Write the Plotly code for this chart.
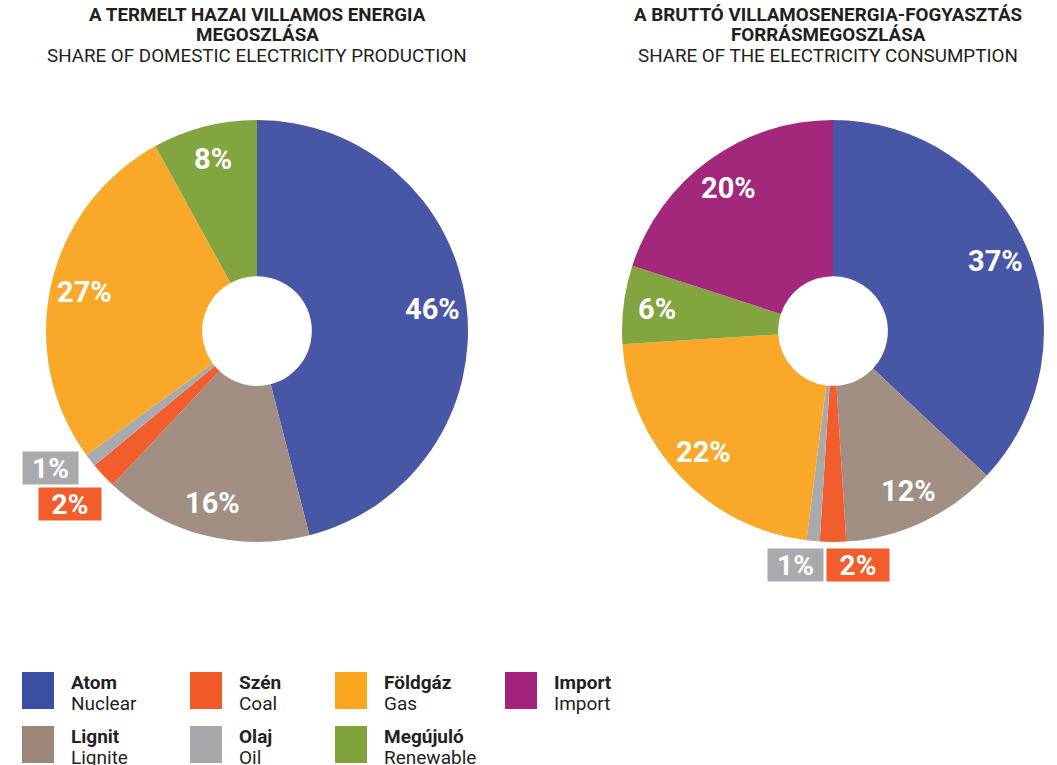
import math
import plotly.graph_objects as go

W, H = 1057, 765

# ---- data ----
cats_left = ["Atom", "Lignit", "Szén", "Olaj", "Földgáz", "Megújuló"]
vals_left = [46, 16, 2, 1, 27, 8]
cats_right = ["Atom", "Lignit", "Szén", "Olaj", "Földgáz", "Megújuló", "Import"]
vals_right = [37, 12, 2, 1, 22, 6, 20]

legend_hu = ["Atom", "Szén", "Földgáz", "Import", "Lignit", "Olaj", "Megújuló"]
legend_en = ["Nuclear", "Coal", "Gas", "Import", "Lignite", "Oil", "Renewable"]

colors = {
    "Atom": "#4757a6",
    "Lignit": "#a08f82",
    "Szén": "#f15d2c",
    "Olaj": "#a9aaad",
    "Földgáz": "#f9a829",
    "Megújuló": "#82a53f",
    "Import": "#a3287c",
}
legend_colors = {
    "Atom": "#3a4ea3", "Szén": "#f15a29", "Földgáz": "#f9a51e", "Import": "#a3237a",
    "Lignit": "#9b8677", "Olaj": "#a7a8ab", "Megújuló": "#80a33b",
}

title_left = ["A TERMELT HAZAI VILLAMOS ENERGIA", "MEGOSZLÁSA", "SHARE OF DOMESTIC ELECTRICITY PRODUCTION"]
title_right = ["A BRUTTÓ VILLAMOSENERGIA-FOGYASZTÁS", "FORRÁSMEGOSZLÁSA", "SHARE OF THE ELECTRICITY CONSUMPTION"]

FONT = "Roboto"

# ---- geometry (pixels) ----
R = 211
centers = [(257, 331), (833, 331)]
HOLE = 0.26


def px(x):
    return x / W


def py(y):
    return 1 - y / H


fig = go.Figure()
for (cx, cy), cats, vals in [(centers[0], cats_left, vals_left), (centers[1], cats_right, vals_right)]:
    fig.add_trace(go.Pie(
        labels=cats, values=vals, sort=False, direction="clockwise", rotation=0,
        hole=HOLE, textinfo="none", hoverinfo="label+percent",
        marker=dict(colors=[colors[c] for c in cats], line=dict(width=0)),
        domain=dict(x=[px(cx - R), px(cx + R)], y=[py(cy + R), py(cy - R)]),
        showlegend=False,
    ))

annotations = []

# slice labels computed from data
small_boxes = {
    0: {"Olaj": (50, 468, 53), "Szén": (70, 504, 60)},
    1: {"Olaj": (795, 565, 53), "Szén": (858, 565, 60)},
}
for i, ((cx, cy), cats, vals) in enumerate([(centers[0], cats_left, vals_left), (centers[1], cats_right, vals_right)]):
    total = sum(vals)
    cum = 0
    for c, v in zip(cats, vals):
        mid = (cum + v / 2) / total * 2 * math.pi
        cum += v
        pct = f"{round(v / total * 100)}%"
        if c in small_boxes[i]:
            bx, by, bw = small_boxes[i][c]
            annotations.append(dict(
                x=px(bx), y=py(by), xref="paper", yref="paper", text=f"<b>{pct}</b>",
                showarrow=False, bgcolor=colors[c], width=bw, height=30,
                font=dict(family=FONT, size=28, color="white"), xanchor="center", yanchor="middle",
            ))
        else:
            r = 0.84 * R
            lx = cx + r * math.sin(mid)
            ly = cy - r * math.cos(mid)
            annotations.append(dict(
                x=px(lx), y=py(ly), xref="paper", yref="paper", text=f"<b>{pct}</b>",
                showarrow=False, font=dict(family=FONT, size=29, color="white"),
                xanchor="center", yanchor="middle",
            ))

# titles
for tx, lines in [(257, title_left), (828, title_right)]:
    for j, (ty, t) in enumerate(zip([15, 35, 56], lines)):
        annotations.append(dict(
            x=px(tx), y=py(ty), xref="paper", yref="paper",
            text=f"<b>{t}</b>" if j < 2 else t, showarrow=False,
            font=dict(family=FONT, size=18.8, color="#231f20"),
            xanchor="center", yanchor="middle",
        ))

# legend
shapes = []
col_x = [22, 190, 335, 505]
row_y = [672, 726]
for k, (hu, en) in enumerate(zip(legend_hu, legend_en)):
    r_, c_ = divmod(k, 4)
    x0 = col_x[c_]
    y0 = row_y[r_]
    shapes.append(dict(type="rect", xref="paper", yref="paper",
                       x0=px(x0), x1=px(x0 + 32), y0=py(y0 + 37), y1=py(y0),
                       fillcolor=legend_colors[hu], line=dict(width=0)))
    annotations.append(dict(x=px(x0 + 47), y=py(y0 + 10), xref="paper", yref="paper",
                            text=f"<b>{hu}</b>", showarrow=False, xanchor="left", yanchor="middle",
                            font=dict(family=FONT, size=19, color="#231f20")))
    annotations.append(dict(x=px(x0 + 47), y=py(y0 + 31), xref="paper", yref="paper",
                            text=en, showarrow=False, xanchor="left", yanchor="middle",
                            font=dict(family=FONT, size=19, color="#231f20")))

fig.update_layout(
    width=W, height=H, margin=dict(l=0, r=0, t=0, b=0),
    paper_bgcolor="white", plot_bgcolor="white",
    annotations=annotations, shapes=shapes, showlegend=False,
)
fig.write_html(
    "out.html",
    config={"displayModeBar": False},
    post_script="document.body.style.margin='0';document.body.style.overflow='hidden';",
)
